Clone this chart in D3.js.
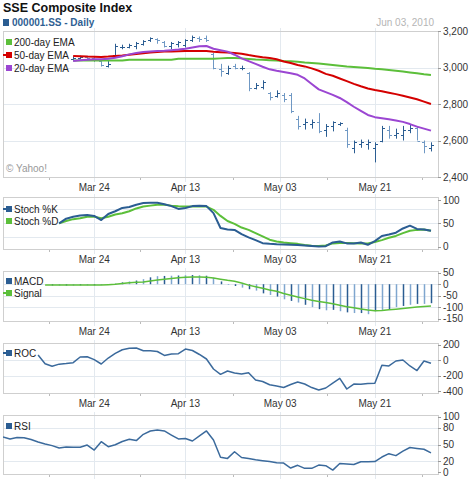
<!DOCTYPE html>
<html>
<head>
<meta charset="utf-8">
<script src="https://cdn.jsdelivr.net/npm/d3@7"></script>
<style>
  body { margin: 0; background: #fff; }
  svg { display: block; font-family: "Liberation Sans", Arial, sans-serif; }
</style>
</head>
<body>
<svg id="chart" width="470" height="480"></svg>
<script>
// ---- data (trading days, 2010) ----
const dates = ["Mar 05","Mar 08","Mar 09","Mar 10","Mar 11","Mar 12","Mar 15","Mar 16","Mar 17","Mar 18",
  "Mar 19","Mar 22","Mar 23","Mar 24","Mar 25","Mar 26","Mar 29","Mar 30","Mar 31","Apr 01",
  "Apr 02","Apr 06","Apr 07","Apr 08","Apr 09","Apr 12","Apr 13","Apr 14","Apr 15","Apr 16",
  "Apr 19","Apr 20","Apr 21","Apr 22","Apr 23","Apr 26","Apr 27","Apr 28","Apr 29","Apr 30",
  "May 04","May 05","May 06","May 07","May 10","May 11","May 12","May 13","May 14","May 17",
  "May 18","May 19","May 20","May 21","May 24","May 25","May 26","May 27","May 28","May 31",
  "Jun 01","Jun 02"];
const tickLabels = ["Mar 24", "Apr 13", "May 03", "May 21"];

const pad = n => Array(n).fill(null);

const priceOpen = pad(10).concat([3045,3050,3055,3050,3035,3010,3070,3110,3115,3120,3130,3150,3155,3140,3120,3130,
  3125,3150,3160,3160,3075,2990,2970,3010,2995,2970,2890,2895,2860,2845,2850,2850,2720,2690,2690,2700,
  2660,2680,2690,2660,2560,2580,2580,2560,2600,2660,2630,2630,2660,2670,2590,2560]);
const priceHigh = pad(10).concat([3060,3065,3065,3060,3045,3040,3130,3125,3130,3140,3150,3165,3160,3145,3140,3145,
  3155,3175,3170,3175,3080,3020,3010,3020,3010,2975,2915,2930,2865,2875,2860,2860,2735,2720,2715,2750,
  2690,2705,2700,2670,2600,2605,2605,2590,2680,2680,2665,2680,2690,2680,2600,2590]);
const priceLow = pad(10).concat([3035,3045,3040,3030,3005,3000,3060,3100,3105,3100,3120,3140,3130,3110,3100,3110,
  3110,3140,3140,3140,2990,2950,2960,2990,2985,2870,2880,2880,2820,2835,2810,2750,2660,2660,2665,2640,
  2620,2650,2680,2560,2530,2560,2550,2480,2590,2610,2610,2600,2640,2600,2530,2540]);
const priceClose = pad(10).concat([3050,3060,3050,3040,3015,3020,3120,3115,3125,3135,3145,3160,3150,3120,3135,3140,
  3150,3165,3155,3150,3000,2980,3000,3000,3000,2890,2905,2920,2840,2860,2830,2760,2680,2700,2700,2650,
  2680,2700,2695,2580,2590,2590,2590,2580,2670,2630,2640,2660,2670,2600,2570,2575]);

const ema200 = pad(10).concat([3038,3038,3038,3038,3038,3038,3038,3038,3043,3043,3043,3043,3043,3043,3043,3048,
  3048,3048,3048,3048,3048,3050,3052,3052,3050,3047,3044,3042,3040,3038,3035,3034,3032,3028,3025,3022,
  3018,3014,3010,3006,3003,3000,2997,2993,2990,2986,2982,2978,2973,2968,2963,2959]);
const ema50 = pad(10).concat([3063,3062,3060,3059,3058,3060,3063,3066,3070,3074,3078,3082,3085,3087,3088,3089,
  3090,3091,3090,3090,3086,3084,3082,3080,3075,3068,3062,3056,3052,3045,3033,3025,3014,3006,2995,2982,
  2965,2955,2940,2925,2910,2897,2885,2877,2870,2862,2854,2845,2836,2826,2813,2800]);
const ema20 = pad(10).concat([3036,3040,3043,3045,3045,3048,3053,3062,3072,3080,3085,3088,3090,3092,3095,3098,
  3103,3110,3116,3118,3103,3095,3087,3070,3050,3035,3020,3004,2990,2982,2975,2968,2960,2940,2910,2880,
  2865,2850,2833,2810,2785,2762,2740,2728,2722,2716,2710,2702,2690,2676,2665,2654]);

const stochK = pad(8).concat([50,60,64,67,68,66,57,70,76,83,85,90,93.5,94,94,91,87,81,83,87,88,87,72,40,37,36,
  27,20,14,7.5,6,5,4.7,4.3,3.6,2.6,1.5,0.5,1,9,11,7,7,9,4,12,23,26,30,39,45,38,37,34]);
const stochD = pad(8).concat([50,55,59,61,64,64,61,64,69,71.5,76,82,86,88,90,90,88,86.5,86,86,86,86,79,66,55,49,
  41,36,29,22,15,11,9,7.5,6,3.6,2,1.5,2.6,7,8,8,7.5,7,7,10,14,19,23,29,34,36,37,34]);

const macd = pad(7).concat([-6,-6,-6,-6,-5,-5,-5,-4,-3,3,8,12,16,22,30,35,36,37,38,39,40,39,37,28,12,-3,-8,
  -15,-22,-28,-40,-47,-54,-66,-73,-80,-90,-100,-109,-114,-112,-118,-123,-126,-126,-131,-118,-112,-109,
  -100,-95,-90,-86,-86,-83]);
const signal = pad(6).concat([-3,-4,-4,-4,-4,-4,-4,-4,-4,-2,0,3,6,8,10,14,18,22,25,28,30,31,31,30,27,22,17,13,
  5,-4,-11,-18,-25,-31,-41,-48,-56,-63,-70,-76,-80,-85,-92,-98,-103,-108,-113,-116,-115,-112,-109,-106,
  -103,-100,-97,-95]);

const roc = pad(5).concat([69,-45,-78,-50,-42,-31,43,47,9,-48,30,91,138,158,160,125,125,115,63,82,86,147,128,
  76,17,-113,-183,-140,-166,-179,-162,-257,-276,-319,-335,-355,-315,-283,-309,-355,-387,-361,-296,-235,
  -374,-309,-313,-302,-300,-65,-74,-9,4,-74,-133,-9,-39]);

const rsi = [63.5,60,62.6,62,59,54.5,51,48,43.7,45.5,45,45,49,40,55,46,49.6,55.4,59.4,57,68.3,74.3,76,74.3,
  67,60,60.8,56.3,65.3,74.3,58,27,25,37,26.6,24.8,22.5,21,19.4,17.3,16.7,7.7,12.6,7.2,7.2,13,12,4,16,15,
  14,19,19,19.4,27.5,33.5,30,38,44.6,43,41.5,35];

// ---- layout ----
const width = 470, height = 480;
const plotLeft = 3, plotRight = 438;
const BLUE = "#2b5d92", GREEN = "#5cbf3a", RED = "#d40000", PURPLE = "#9b46d2";
const GRID = "#e3e9ef", BORDER = "#cfcfcf", AXIS_TXT = "#333";

const svg = d3.select('#chart');
svg.append('rect').attr('width', width).attr('height', height).attr('fill', '#fff');

const x = d3.scaleLinear().domain([0, dates.length]).range([plotLeft, plotRight]);

const parseDay = d3.timeParse("%b %d %Y");
const dayIndex = (label) => {
  const k = dates.indexOf(label);
  if (k >= 0) return k;
  const t = parseDay(label + " 2010");
  const next = dates.findIndex(d => parseDay(d + " 2010") > t);
  return next - 0.5;
};
const majorTicks = tickLabels.map(dayIndex);
const minorTicks = [];
majorTicks.forEach((t, k) => {
  if (k === 0) minorTicks.push(t - (majorTicks[1] - t) / 2);
  if (k < majorTicks.length - 1) minorTicks.push((t + majorTicks[k + 1]) / 2);
  else minorTicks.push(t + (t - majorTicks[k - 1]) / 2);
});

const panel = (cfg) => {
  const y = d3.scaleLinear().domain(cfg.domain).range([cfg.bottom, cfg.top]);
  const g = svg.append('g').attr('class', 'panel-' + cfg.name);

  g.selectAll('.hgrid').data(cfg.grid).enter().append('line')
    .attr('x1', plotLeft).attr('x2', plotRight)
    .attr('y1', d => Math.round(y(d)) + 0.5).attr('y2', d => Math.round(y(d)) + 0.5)
    .attr('stroke', GRID);

  g.selectAll('.vgrid').data(majorTicks).enter().append('line')
    .attr('x1', d => Math.round(x(d)) + 0.5).attr('x2', d => Math.round(x(d)) + 0.5)
    .attr('y1', cfg.top - 3).attr('y2', cfg.bottom + 5)
    .attr('stroke', GRID);

  g.selectAll('.minor').data(minorTicks).enter().append('line')
    .attr('x1', d => Math.round(x(d)) + 0.5).attr('x2', d => Math.round(x(d)) + 0.5)
    .attr('y1', cfg.bottom).attr('y2', cfg.bottom + 3)
    .attr('stroke', '#bbb');

  g.append('rect')
    .attr('x', plotLeft + 0.5).attr('y', cfg.top + 0.5)
    .attr('width', plotRight - plotLeft).attr('height', cfg.bottom - cfg.top)
    .attr('fill', 'none').attr('stroke', BORDER);

  g.selectAll('.ytick').data(cfg.ticks).enter().append('line')
    .attr('x1', plotRight).attr('x2', plotRight + 3)
    .attr('y1', d => Math.round(y(d)) + 0.5).attr('y2', d => Math.round(y(d)) + 0.5)
    .attr('stroke', '#999');

  g.selectAll('.ylabel').data(cfg.ticks).enter().append('text')
    .attr('x', plotRight + 5).attr('y', d => y(d) + 3.5)
    .attr('font-size', 10).attr('fill', AXIS_TXT)
    .text(cfg.format || (d => d));

  if (cfg.xLabels) {
    g.selectAll('.xlabel').data(tickLabels).enter().append('text')
      .attr('x', (d, k) => x(majorTicks[k]))
      .attr('y', cfg.bottom + 14)
      .attr('text-anchor', 'middle')
      .attr('font-size', 10).attr('fill', AXIS_TXT)
      .text(d => d);
  }

  const clipId = 'clip-' + cfg.name;
  svg.append('clipPath').attr('id', clipId).append('rect')
    .attr('x', plotLeft).attr('y', cfg.top).attr('width', plotRight - plotLeft).attr('height', cfg.bottom - cfg.top);
  const inner = g.append('g').attr('clip-path', `url(#${clipId})`);
  return { g, inner, y };
};

const legend = (g, items) => {
  items.forEach(it => {
    g.append('rect').attr('x', 6).attr('y', it.y - 3).attr('width', 6).attr('height', 6).attr('fill', it.color);
    if (it.tail) {
      g.append('line').attr('x1', 3).attr('x2', 12).attr('y1', it.y).attr('y2', it.y)
        .attr('stroke', it.color).attr('stroke-width', 2);
    }
    g.append('text').attr('x', 14).attr('y', it.y + 3.5)
      .attr('font-size', 10).attr('fill', '#222').text(it.label);
  });
};

const drawLine = (inner, y, values, color, w) => {
  const line = d3.line()
    .defined(d => d != null)
    .x((d, k) => x(k))
    .y(d => y(d));
  inner.append('path').datum(values)
    .attr('d', line)
    .attr('fill', 'none').attr('stroke', color).attr('stroke-width', w)
    .attr('stroke-linejoin', 'round');
};

// ---- header ----
svg.append('text').attr('x', 3).attr('y', 12)
  .attr('font-size', 12.5).attr('font-weight', 'bold').attr('fill', '#111')
  .text('SSE Composite Index');
svg.append('rect').attr('x', 3).attr('y', 19).attr('width', 6).attr('height', 7).attr('fill', BLUE);
svg.append('text').attr('x', 12).attr('y', 26)
  .attr('font-size', 10).attr('font-weight', 'bold').attr('fill', '#2f5f93')
  .text('000001.SS - Daily');
svg.append('text').attr('x', 434).attr('y', 26).attr('text-anchor', 'end')
  .attr('font-size', 10).attr('fill', '#b5b5b5')
  .text('Jun 03, 2010');

// ---- main price panel ----
const main = panel({ name: 'main', top: 31, bottom: 177, domain: [2400, 3200],
  ticks: [3200, 3000, 2800, 2600, 2400], grid: [3000, 2800, 2600], format: d3.format(','), xLabels: true });

const bars = dates.map((d, k) => ({ k, o: priceOpen[k], h: priceHigh[k], l: priceLow[k], c: priceClose[k] }))
  .filter(b => b.h != null);
const barG = main.inner.selectAll('.bar').data(bars).enter().append('g')
  .attr('stroke', b => b.c >= b.o ? BLUE : '#6f98c4').attr('stroke-width', 1);
barG.append('line')
  .attr('x1', b => Math.round(x(b.k)) + 0.5).attr('x2', b => Math.round(x(b.k)) + 0.5)
  .attr('y1', b => main.y(b.h)).attr('y2', b => main.y(b.l));
barG.append('line')
  .attr('x1', b => Math.round(x(b.k)) - 2).attr('x2', b => Math.round(x(b.k)) + 0.5)
  .attr('y1', b => Math.round(main.y(b.o)) + 0.5).attr('y2', b => Math.round(main.y(b.o)) + 0.5);
barG.append('line')
  .attr('x1', b => Math.round(x(b.k)) + 0.5).attr('x2', b => Math.round(x(b.k)) + 3)
  .attr('y1', b => Math.round(main.y(b.c)) + 0.5).attr('y2', b => Math.round(main.y(b.c)) + 0.5);

drawLine(main.inner, main.y, ema200, GREEN, 2);
drawLine(main.inner, main.y, ema50, RED, 2);
drawLine(main.inner, main.y, ema20, PURPLE, 2);

legend(main.g, [
  { label: '200-day EMA', color: GREEN, y: 42 },
  { label: '50-day EMA', color: RED, y: 55, tail: true },
  { label: '20-day EMA', color: PURPLE, y: 68 }
]);
main.g.append('text').attr('x', 6).attr('y', 172)
  .attr('font-size', 10).attr('fill', '#999').text('\u00a9 Yahoo!');

// ---- stochastic ----
const stoch = panel({ name: 'stoch', top: 197, bottom: 249, domain: [-5, 106.5],
  ticks: [100, 50, 0], grid: [80, 50, 20], xLabels: true });
drawLine(stoch.inner, stoch.y, stochD, GREEN, 2);
drawLine(stoch.inner, stoch.y, stochK, BLUE, 2);
legend(stoch.g, [
  { label: 'Stoch %K', color: BLUE, y: 209, tail: true },
  { label: 'Stoch %D', color: GREEN, y: 221 }
]);

// ---- MACD ----
const macdP = panel({ name: 'macd', top: 271, bottom: 321, domain: [-160.7, 57.6],
  ticks: [50, 0, -50, -100, -150], grid: [0, -50, -100], xLabels: true });
macdP.inner.selectAll('.mbar').data(macd.map((v, k) => ({ v, k })).filter(d => d.v != null))
  .enter().append('line')
  .attr('x1', d => Math.round(x(d.k)) + 0.5).attr('x2', d => Math.round(x(d.k)) + 0.5)
  .attr('y1', macdP.y(0)).attr('y2', d => macdP.y(d.v))
  .attr('stroke', (d, k) => k % 2 ? '#7fa6cf' : BLUE).attr('stroke-width', 1.5);
drawLine(macdP.inner, macdP.y, signal, GREEN, 1.5);
legend(macdP.g, [
  { label: 'MACD', color: BLUE, y: 281 },
  { label: 'Signal', color: GREEN, y: 293, tail: true }
]);

// ---- ROC ----
const rocP = panel({ name: 'roc', top: 343, bottom: 393, domain: [-426, 225.5],
  ticks: [200, 0, -200, -400], grid: [0, -200], xLabels: true });
drawLine(rocP.inner, rocP.y, roc, '#3b6a9c', 1.5);
legend(rocP.g, [{ label: 'ROC', color: BLUE, y: 353, tail: true }]);

// ---- RSI ----
const rsiP = panel({ name: 'rsi', top: 415, bottom: 474, domain: [-3, 103],
  ticks: [100, 80, 50, 20, 0], grid: [80, 50, 20], xLabels: false });
drawLine(rsiP.inner, rsiP.y, rsi, '#3b6a9c', 1.5);
legend(rsiP.g, [{ label: 'RSI', color: BLUE, y: 426 }]);
</script>
</body>
</html>
